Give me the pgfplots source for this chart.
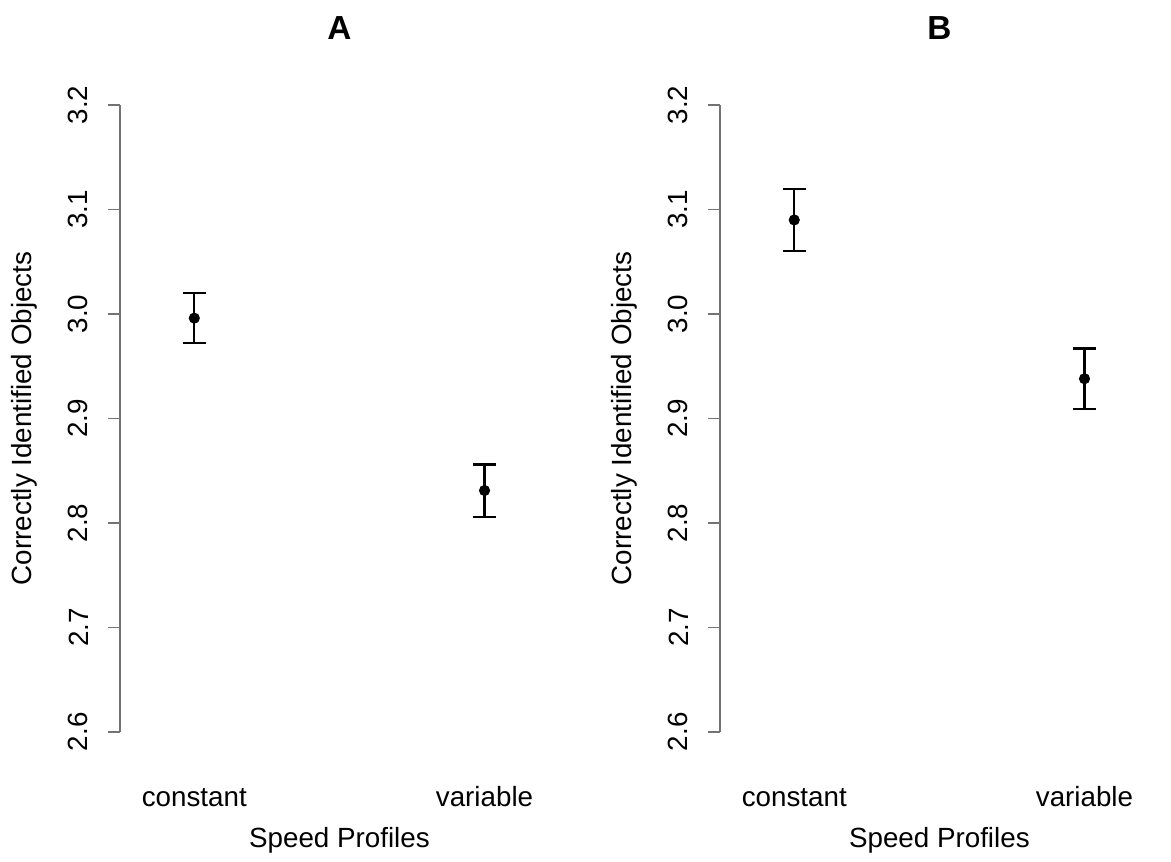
\documentclass[border=0pt]{standalone}
\usepackage{fontspec}
\setmainfont{Liberation Sans}
\usepackage{pgfplots}
\pgfplotsset{compat=1.18}

\pgfplotsset{
  rpanel/.style={
    scale only axis,
    width=158pt, height=243.7pt,
    anchor=south west,
    font=\fontsize{10}{12}\selectfont,
    xmin=0.744, xmax=2.256,
    ymin=2.576, ymax=3.224,
    axis x line*=bottom, axis y line*=left,
    x axis line style={draw=none},
    y axis line style={draw=none},
    tick align=outside,
    major tick length=4.3pt,
    xtick={1,2}, xticklabels={constant,variable},
    xtick style={draw=none},
    ytick={2.6,2.7,...,3.2},
    ytick style={black!55, line width=0.6pt},
    yticklabel shift=7pt,
    yticklabel style={rotate=90, anchor=south, inner sep=0pt,
      /pgf/number format/fixed, /pgf/number format/fixed zerofill,
      /pgf/number format/precision=1,
      /pgf/number format/assume math mode=true},
    xticklabel style={anchor=base, yshift=-13.6pt},
    xlabel={Speed Profiles},
    xlabel style={at={(axis description cs:0.5,0)}, anchor=center, yshift=-30pt},
    ylabel={Correctly Identified Objects},
    ylabel style={at={(axis description cs:-0.219,0.5)}, anchor=center},
    title style={at={(axis description cs:0.5,1)}, anchor=center, yshift=12.6pt,
      font=\fontsize{12}{14}\selectfont\bfseries},
    clip=false,
  },
  rpoint/.style={black, only marks, mark=*, mark size=1.8pt,
    error bars/.cd, y dir=both, y explicit,
    error mark=-, error mark options={rotate=90, black, mark size=4.2pt, line width=0.8pt},
    error bar style={line width=0.8pt}},
}

\begin{document}
\begin{tikzpicture}
\path[use as bounding box] (0,0) rectangle (421.6pt,310.3pt);

\begin{axis}[rpanel, at={(43.2pt,37.8pt)}, title={A}]
\addplot[rpoint] coordinates {
  (1, 2.996) +- (0, 0.024)
  (2, 2.831) +- (0, 0.025)
};
\draw[black!55, line width=0.6pt] (axis cs:0.744,2.6) -- (axis cs:0.744,3.2);
\end{axis}

\begin{axis}[rpanel, at={(259.2pt,37.8pt)}, title={B}]
\addplot[rpoint] coordinates {
  (1, 3.090) +- (0, 0.030)
  (2, 2.938) +- (0, 0.029)
};
\draw[black!55, line width=0.6pt] (axis cs:0.744,2.6) -- (axis cs:0.744,3.2);
\end{axis}
\end{tikzpicture}
\end{document}
